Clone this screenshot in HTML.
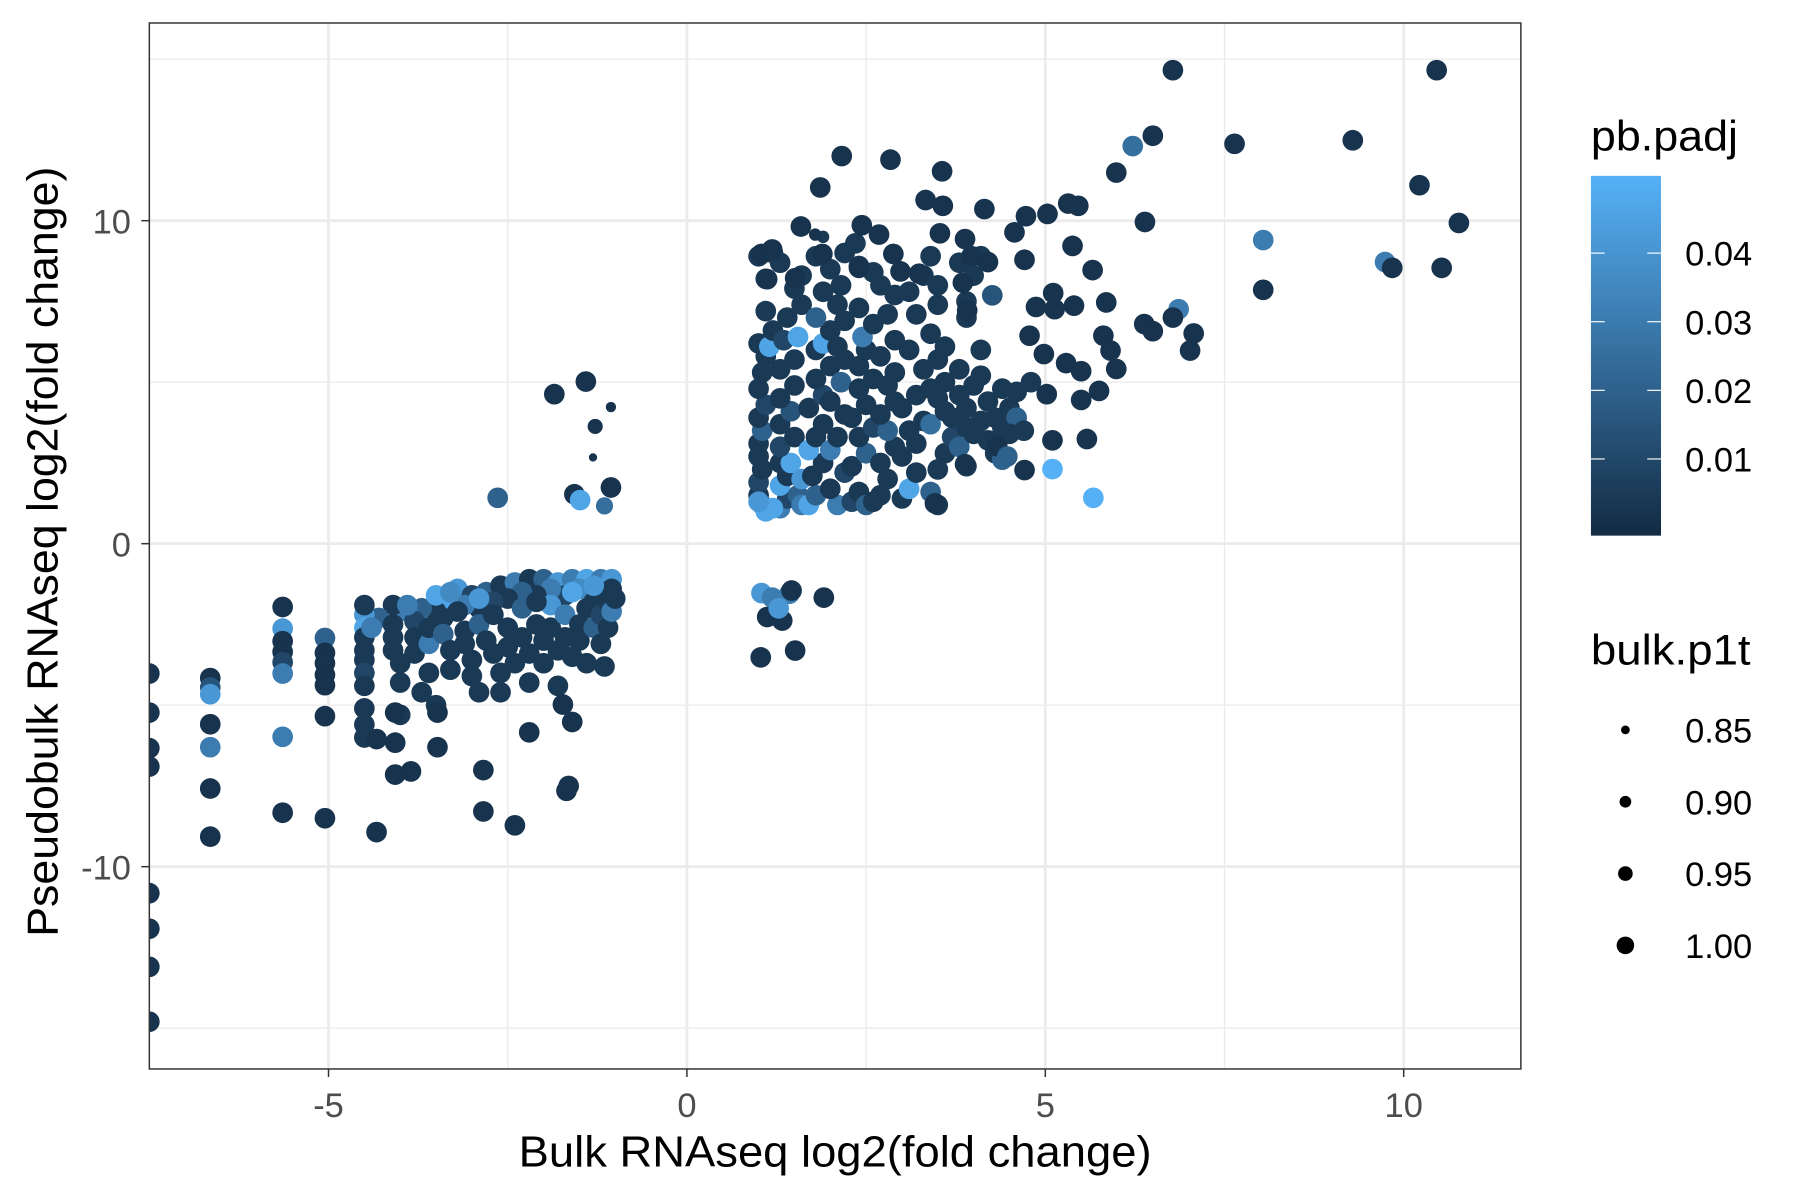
<!DOCTYPE html>
<html><head><meta charset="utf-8"><style>
html,body{margin:0;padding:0;background:#fff;}
svg{display:block;font-family:"Liberation Sans",Arial,sans-serif;}
</style></head><body>
<svg id="chart" width="1800" height="1200" viewBox="0 0 1567 1044" preserveAspectRatio="none" xmlns="http://www.w3.org/2000/svg">
<defs><linearGradient id="cb" x1="0" y1="1" x2="0" y2="0"><stop offset="0" stop-color="#132B43"/><stop offset="1" stop-color="#56B1F7"/></linearGradient></defs>
<rect x="0" y="0" width="1567" height="1044" fill="#fff"/>
<g id="grid"></g>
<g id="points"></g>
<rect x="130" y="20" width="1194" height="910" fill="none" stroke="#333" stroke-width="1.3"/>
<g id="axes"></g>
<text x="727" y="1015" font-size="38" text-anchor="middle" textLength="551" lengthAdjust="spacingAndGlyphs" fill="#000">Bulk RNAseq log2(fold change)</text>
<text transform="translate(50,480) rotate(-90)" font-size="38" text-anchor="middle" textLength="670" lengthAdjust="spacingAndGlyphs" fill="#000">Pseudobulk RNAseq log2(fold change)</text>
<g>
<text x="1385" y="131" font-size="37" textLength="128" lengthAdjust="spacingAndGlyphs" fill="#000">pb.padj</text>
<rect x="1385" y="153" width="61" height="313" fill="url(#cb)"/>
<g id="cbticks"></g>
</g>
<g id="sizeleg">
<text x="1385" y="578" font-size="37" textLength="139" lengthAdjust="spacingAndGlyphs" fill="#000">bulk.p1t</text>
</g>
</svg>
<script>
const xTicks=[-5,0,5,10];
const yTicks=[-10,0,10];
const xMinor=[-7.5,-2.5,2.5,7.5];
const yMinor=[-15,-5,5,15];
const padjTicks=[0.01,0.02,0.03,0.04];
const p1tLegend=[0.85,0.90,0.95,1.00];
// [bulk lfc, pseudobulk lfc, pb.padj, bulk.p1t]
const outlierPoints=[
[6.78,14.66,.003,1],[10.46,14.66,.003,1],[7.64,12.38,.003,1],[9.29,12.49,.003,1],[6.22,12.31,.025,1],[6.5,12.63,.003,1],
[2.16,12.0,.003,1],[2.84,11.89,.003,1],[3.56,11.53,.003,1],[5.99,11.49,.003,1],[1.86,11.03,.003,1],[10.22,11.1,.003,1],
[10.77,9.93,.003,1],[6.39,9.96,.003,1],[8.04,9.4,.03,1],[9.74,8.72,.03,1],[9.84,8.54,.003,1],[10.53,8.54,.003,1],
[8.04,7.86,.003,1],[6.86,7.26,.03,1],[6.78,7.0,.003,1],[6.38,6.8,.003,1],[6.5,6.58,.003,1],[7.07,6.51,.003,1],[7.02,5.98,.003,1],
[3.33,10.64,.003,1],[3.57,10.46,.003,1],[4.15,10.36,.003,1],[4.73,10.14,.003,1],[5.03,10.21,.003,1],[5.32,10.53,.003,1],[5.46,10.46,.003,1],
[4.57,9.64,.003,1],[5.38,9.22,.003,1],[5.66,8.47,.003,1],[4.71,8.79,.003,1],[5.85,7.47,.003,1],[5.11,7.76,.003,1],[4.87,7.33,.003,1],
[5.40,7.37,.003,1],[5.13,7.26,.003,1],[4.26,7.69,.015,1],[4.78,6.44,.003,1],[5.81,6.44,.003,1],[5.91,5.98,.003,1],[4.98,5.87,.003,1],
[5.29,5.59,.003,1],[5.99,5.41,.003,1],[5.5,5.34,.003,1],[5.75,4.73,.003,1],[5.02,4.63,.003,1],[5.5,4.45,.003,1],[5.58,3.24,.003,1],
[5.1,3.2,.003,1],[4.71,2.28,.003,1],[5.1,2.31,.049,1],[5.67,1.42,.049,1],[4.33,3.02,.003,1],[3.88,2.46,.003,1],[3.46,1.25,.003,1],[4.47,2.7,.02,1],
[2.68,9.57,.003,1],[2.44,9.86,.003,1],[1.59,9.82,.003,1],[1.79,9.57,.003,0.88],[1.04,8.97,.003,1],[1.19,9.11,.003,1],[1.12,8.19,.003,1],
[1.51,8.22,.003,1],[1.89,8.97,.003,1],[2.88,8.97,.003,1],[3.53,9.61,.003,1],[3.88,9.43,.003,1],[3.97,8.90,.003,1],[4.2,8.72,.003,1],
[3.85,8.08,.003,1],[3.91,7.22,.003,1],[3.24,8.36,.003,1],[2.98,8.43,.003,1],[2.4,8.54,.003,1],
[-1.85,4.63,.003,1],[-1.41,5.02,.003,1],[-1.06,4.23,.003,0.85],[-1.28,3.63,.003,0.92],[-1.31,2.67,.003,0.82],[-2.64,1.42,.02,1],
[-1.57,1.53,.003,1],[-1.49,1.35,.045,1],[-1.15,1.17,.025,0.95],[-1.06,1.74,.003,1],
[1.04,-1.53,.04,1],[1.19,-1.67,.03,1],[1.43,-1.55,.03,1],[1.91,-1.67,.003,1],[1.46,-1.45,.003,1],[1.03,-3.52,.003,1],[1.51,-3.31,.003,1],
[1.33,-2.38,.003,1],[1.12,-2.27,.003,1],[1.28,-2.0,.04,1],
[-7.5,-4.02,.003,1],[-7.5,-5.23,.003,1],[-7.5,-6.33,.003,1],[-7.5,-6.9,.003,1],[-7.5,-10.82,.003,1],[-7.5,-11.92,.003,1],[-7.5,-13.1,.003,1],[-7.5,-14.8,.003,1],
[-6.65,-4.16,.003,1],[-6.65,-4.45,.015,1],[-6.65,-4.66,.04,1],[-6.65,-5.59,.003,1],[-6.65,-6.3,.03,1],[-6.65,-7.58,.003,1],[-6.65,-9.07,.003,1],
[-5.64,-1.96,.003,1],[-5.64,-2.63,.04,1],[-5.64,-3.02,.003,1],[-5.64,-3.35,.003,1],[-5.64,-3.67,.01,1],[-5.64,-4.02,.03,1],[-5.64,-5.98,.03,1],[-5.64,-8.33,.003,1],
[-5.05,-2.92,.02,1],[-5.05,-3.38,.003,1],[-5.05,-3.7,.003,1],[-5.05,-4.06,.003,1],[-5.05,-4.38,.003,1],[-5.05,-5.34,.003,1],[-5.05,-8.5,.003,1],
[-4.07,-5.23,.003,1],[-4.07,-6.16,.003,1],[-4.07,-7.15,.003,1],[-3.85,-7.05,.003,1],[-3.48,-6.3,.003,1],[-3.48,-5.23,.003,1],
[-4.33,-6.05,.003,1],[-4.33,-8.93,.003,1],[-2.84,-8.29,.003,1],[-2.84,-7.01,.003,1],[-2.4,-8.72,.003,1],[-2.2,-5.84,.003,1],
[-1.68,-7.65,.003,1],[-1.65,-7.5,.003,1],[-1.6,-5.52,.003,1],[-1.73,-4.98,.003,1]
];
const lowerCluster=[
[-3.2,-1.4,.04,1],[-3.0,-1.6,.01,1],[-2.8,-1.5,.02,1],[-2.6,-1.3,.005,1],[-2.4,-1.2,.03,1],[-2.2,-1.1,.005,1],[-2.0,-1.1,.02,1],[-1.8,-1.2,.04,1],
[-1.6,-1.1,.03,1],[-1.4,-1.1,.045,1],[-1.2,-1.1,.03,1],[-1.05,-1.1,.04,1],[-1.1,-1.5,.02,1],[-1.3,-1.6,.005,1],[-1.5,-1.4,.035,1],[-1.7,-1.6,.01,1],
[-1.9,-1.4,.03,1],[-2.1,-1.6,.005,1],[-2.3,-1.5,.02,1],[-2.5,-1.7,.005,1],[-2.7,-1.8,.01,1],[-2.9,-2.0,.005,1],[-3.1,-1.9,.03,1],[-3.3,-2.0,.045,1],
[-3.5,-2.1,.005,1],[-3.7,-2.0,.02,1],[-3.9,-2.1,.03,1],[-4.1,-1.9,.005,1],[-4.3,-2.3,.02,1],[-4.5,-2.2,.04,1],[-4.5,-2.6,.045,1],[-4.5,-1.9,.005,1],
[-4.5,-2.9,.005,1],[-4.5,-3.3,.005,1],[-4.5,-3.6,.005,1],[-4.5,-4.0,.01,1],[-4.5,-4.4,.005,1],[-4.5,-5.1,.005,1],[-4.5,-5.6,.005,1],[-4.5,-6.0,.005,1],
[-4.1,-2.5,.005,1],[-4.1,-2.9,.005,1],[-4.1,-3.3,.005,1],[-4.0,-3.7,.005,1],[-4.0,-4.3,.005,1],[-4.0,-5.3,.005,1],[-3.8,-2.4,.01,1],[-3.8,-2.9,.005,1],
[-3.8,-3.4,.005,1],[-3.7,-4.6,.005,1],[-3.6,-3.1,.03,1],[-3.6,-2.6,.005,1],[-3.6,-4.0,.005,1],[-3.5,-5.0,.005,1],[-3.4,-2.3,.005,1],[-3.4,-2.8,.02,1],
[-3.3,-3.3,.005,1],[-3.3,-3.9,.005,1],[-3.2,-2.1,.005,1],[-3.1,-2.7,.005,1],[-3.1,-3.1,.005,1],[-3.0,-3.6,.005,1],[-3.0,-4.1,.005,1],[-2.9,-4.6,.005,1],
[-2.9,-2.5,.02,1],[-2.8,-3.0,.005,1],[-2.7,-3.4,.005,1],[-2.7,-2.2,.005,1],[-2.6,-4.0,.005,1],[-2.6,-4.6,.005,1],[-2.5,-2.6,.005,1],[-2.5,-3.2,.005,1],
[-2.4,-3.7,.005,1],[-2.3,-2.0,.02,1],[-2.3,-2.9,.005,1],[-2.2,-3.4,.005,1],[-2.2,-4.3,.005,1],[-2.1,-2.5,.005,1],[-2.0,-3.0,.005,1],[-2.0,-3.7,.005,1],
[-1.9,-1.9,.04,1],[-1.9,-2.6,.005,1],[-1.8,-3.3,.005,1],[-1.8,-4.4,.005,1],[-1.7,-2.2,.03,1],[-1.7,-2.9,.005,1],[-1.6,-3.5,.005,1],[-1.6,-1.5,.045,1],
[-1.5,-2.5,.005,1],[-1.5,-3.0,.005,1],[-1.4,-2.0,.005,1],[-1.4,-3.7,.005,1],[-1.3,-2.6,.02,1],[-1.3,-1.8,.005,1],[-1.2,-3.1,.005,1],[-1.2,-2.2,.01,1],
[-1.1,-1.8,.005,1],[-1.1,-2.6,.005,1],[-1.05,-2.1,.03,1],[-1.05,-1.4,.005,1],[-1.0,-1.7,.005,1],[-1.15,-3.8,.005,1],[-3.9,-1.9,.03,1],[-3.5,-1.6,.045,1],
[-3.3,-1.5,.035,1],[-2.1,-1.8,.005,1],[-1.3,-1.3,.04,1],[-2.9,-1.7,.04,1],[-4.4,-2.6,.03,1]
];
const upperCluster=[
[1.05,1.2,.045,1],[1.1,1.0,.045,1],[1.0,1.5,.005,1],[1.0,1.9,.01,1],[1.05,2.3,.005,1],[1.0,2.7,.005,1],[1.0,3.1,.005,1],[1.05,3.5,.02,1],[1.0,3.9,.005,1],
[1.1,4.3,.01,1],[1.0,4.8,.005,1],[1.05,5.3,.005,1],[1.1,5.8,.005,1],[1.0,6.2,.005,1],[1.15,6.1,.045,1],[1.2,6.6,.005,1],[1.1,7.2,.005,1],[1.1,8.2,.005,1],
[1.0,8.9,.005,1],[1.2,9.0,.005,1],[1.3,8.7,.005,1],
[1.3,1.1,.03,1],[1.4,1.4,.01,1],[1.3,1.8,.045,1],[1.4,2.1,.005,1],[1.3,2.5,.005,1],[1.45,2.5,.045,1],[1.3,3.0,.01,1],[1.5,3.3,.005,1],[1.3,3.7,.005,1],
[1.45,4.1,.015,1],[1.3,4.5,.005,1],[1.5,4.9,.005,1],[1.3,5.4,.005,1],[1.5,5.7,.005,1],[1.35,6.3,.01,1],[1.55,6.4,.045,1],[1.4,7.0,.005,1],[1.6,7.4,.005,1],
[1.5,7.9,.005,1],[1.6,8.3,.005,1],[1.55,1.5,.02,1],[1.6,2.0,.04,1],[1.6,1.2,.03,1],
[1.7,1.2,.045,1],[1.8,1.5,.02,1],[1.75,2.1,.005,1],[1.9,2.5,.005,1],[1.7,2.9,.045,1],[1.8,3.3,.005,1],[1.9,3.7,.005,1],[1.7,4.2,.005,1],[1.9,4.6,.01,1],
[1.8,5.1,.005,1],[2.0,5.5,.005,1],[1.8,6.0,.005,1],[1.9,6.2,.045,1],[2.0,6.6,.005,1],[1.8,7.0,.02,1],[2.1,7.4,.005,1],[1.9,7.8,.005,1],[1.8,8.9,.005,1],
[1.9,9.5,.005,0.88],[2.0,8.5,.005,1],[2.1,1.2,.03,1],[2.0,1.7,.005,1],[2.2,2.2,.01,1],[2.0,2.9,.03,1],[2.1,3.3,.005,1],[2.2,4.0,.005,1],[2.0,4.4,.005,1],
[2.15,5.0,.02,1],[2.2,5.7,.005,1],[2.1,6.1,.005,1],[2.2,6.9,.005,1],[2.15,8.0,.005,1],[2.2,9.0,.005,1],
[2.3,1.3,.01,1],[2.4,1.6,.005,1],[2.3,2.4,.005,1],[2.5,2.8,.02,1],[2.4,3.3,.005,1],[2.6,3.6,.01,1],[2.3,3.9,.005,1],[2.5,4.3,.005,1],[2.4,4.8,.005,1],
[2.6,5.1,.005,1],[2.4,5.5,.005,1],[2.5,6.0,.005,1],[2.45,6.4,.03,1],[2.6,6.8,.005,1],[2.4,7.3,.005,1],[2.6,8.4,.005,1],[2.4,8.6,.005,1],[2.35,9.3,.005,1],
[2.5,1.2,.02,1],[2.7,1.5,.005,1],[2.8,2.0,.005,1],[2.7,2.5,.005,1],[2.9,3.0,.005,1],[2.8,3.5,.02,1],[2.7,4.0,.005,1],[2.9,4.4,.005,1],[2.8,4.9,.005,1],
[2.9,5.3,.005,1],[2.7,5.8,.005,1],[2.9,6.3,.005,1],[2.8,7.1,.005,1],[2.9,7.7,.005,1],[2.7,8.0,.005,1],[2.6,1.3,.005,1],
[3.0,1.4,.005,1],[3.1,1.7,.045,1],[3.2,2.2,.005,1],[3.0,2.7,.005,1],[3.2,3.1,.005,1],[3.1,3.5,.005,1],[3.3,3.8,.005,1],[3.0,4.2,.005,1],[3.2,4.6,.005,1],
[3.4,4.8,.005,1],[3.3,5.4,.005,1],[3.1,6.0,.005,1],[3.4,6.5,.005,1],[3.2,7.1,.005,1],[3.5,7.4,.005,1],[3.1,7.8,.005,1],[3.3,8.3,.005,1],[3.4,1.6,.02,1],
[3.5,1.2,.005,1],[3.5,2.3,.005,1],[3.6,2.8,.005,1],[3.4,3.7,.025,1],[3.6,4.1,.005,1],[3.5,4.5,.005,1],[3.6,5.0,.005,1],[3.5,5.7,.005,1],[3.6,6.1,.005,1],
[3.5,8.0,.005,1],[3.4,8.9,.005,1],
[3.7,3.3,.01,1],[3.8,3.0,.02,1],[3.9,3.6,.005,1],[3.7,3.9,.005,1],[3.9,4.2,.005,1],[3.8,4.6,.005,1],[4.0,4.9,.005,1],[3.8,5.4,.005,1],[4.1,5.2,.005,1],
[3.9,2.4,.005,1],[4.0,3.4,.005,1],[4.1,3.8,.005,1],[4.2,4.4,.005,1],[4.3,3.9,.005,1],[4.2,3.2,.005,1],[4.3,2.8,.005,1],[4.4,3.6,.005,1],[4.5,4.2,.005,1],
[4.4,4.8,.005,1],[4.6,3.9,.02,1],[4.5,3.4,.005,1],[4.4,2.6,.02,1],[4.7,3.5,.005,1],[4.6,4.7,.005,1],[4.8,5.0,.005,1],[4.1,6.0,.005,1],[3.9,7.0,.005,1],
[3.9,7.5,.005,1],[4.0,8.3,.005,1],[3.8,8.7,.005,1],[4.1,8.9,.005,1],[1.2,1.1,.045,1],[1.0,1.3,.04,1]
];
const NS='http://www.w3.org/2000/svg';
const X=v=>598+v*62.4, Y=v=>473-v*28.1;
const padjMax=0.0495;
const lo=[0x13,0x2B,0x43], hi=[0x56,0xB1,0xF7];
function col(p){const t=Math.max(0,Math.min(1,p/padjMax));return 'rgb('+lo.map((c,i)=>Math.round(c+(hi[i]-c)*t)).join(',')+')';}
const R=s=>3+Math.max(0,(s-0.8))/0.2*6;
function mk(tag,attrs,parent){const e=document.createElementNS(NS,tag);for(const k in attrs)e.setAttribute(k,attrs[k]);parent.appendChild(e);return e;}
const grid=document.getElementById('grid');
xMinor.forEach(v=>{const l=mk('line',{x1:X(v),x2:X(v),y1:20,y2:930,stroke:'#ebebeb','stroke-width':1.2},grid);

});
yMinor.forEach(v=>{const l=mk('line',{x1:130,x2:1324,y1:Y(v),y2:Y(v),stroke:'#ebebeb','stroke-width':1.2},grid);

});
xTicks.forEach(v=>{const l=mk('line',{x1:X(v),x2:X(v),y1:20,y2:930,stroke:'#ebebeb','stroke-width':2.4},grid);

});
yTicks.forEach(v=>{const l=mk('line',{x1:130,x2:1324,y1:Y(v),y2:Y(v),stroke:'#ebebeb','stroke-width':2.4},grid);

});
const axes=document.getElementById('axes');
xTicks.forEach(v=>{mk('line',{x1:X(v),x2:X(v),y1:930,y2:937,stroke:'#333','stroke-width':1.3},axes);
const t=mk('text',{x:X(v),y:972,'font-size':30,'text-anchor':'middle',fill:'#4d4d4d'},axes);t.textContent=v;

});
yTicks.forEach(v=>{mk('line',{x1:123,x2:130,y1:Y(v),y2:Y(v),stroke:'#333','stroke-width':1.3},axes);
const t=mk('text',{x:114,y:Y(v)+11,'font-size':30,'text-anchor':'end',fill:'#4d4d4d'},axes);t.textContent=v;

});
const pts=document.getElementById('points');
const clip=mk('clipPath',{id:'pc'},pts);mk('rect',{x:130,y:20,width:1194,height:910},clip);
pts.setAttribute('clip-path','url(#pc)');
[lowerCluster,upperCluster,outlierPoints].forEach(arr=>arr.forEach(d=>{
const c=mk('circle',{cx:X(d[0]),cy:Y(d[1]),r:R(d[3]),fill:col(d[2])},pts);

}));
const cbt=document.getElementById('cbticks');
const cbY=p=>459-p*5970;
padjTicks.forEach(p=>{mk('line',{x1:1385,x2:1397,y1:cbY(p),y2:cbY(p),stroke:'#fff','stroke-width':1},cbt);
mk('line',{x1:1434,x2:1446,y1:cbY(p),y2:cbY(p),stroke:'#fff','stroke-width':1},cbt);
const t=mk('text',{x:1467,y:cbY(p)+11,'font-size':30,fill:'#000'},cbt);t.textContent=p.toFixed(2);

});
const sl=document.getElementById('sizeleg');
p1tLegend.forEach((s,i)=>{const y=635+i*62.5;
const c=mk('circle',{cx:1415,cy:y,r:R(s)*0.85,fill:'#000'},sl);


const t=mk('text',{x:1467,y:y+11,'font-size':30,fill:'#000'},sl);t.textContent=s.toFixed(2);

});
</script>
</body></html>
